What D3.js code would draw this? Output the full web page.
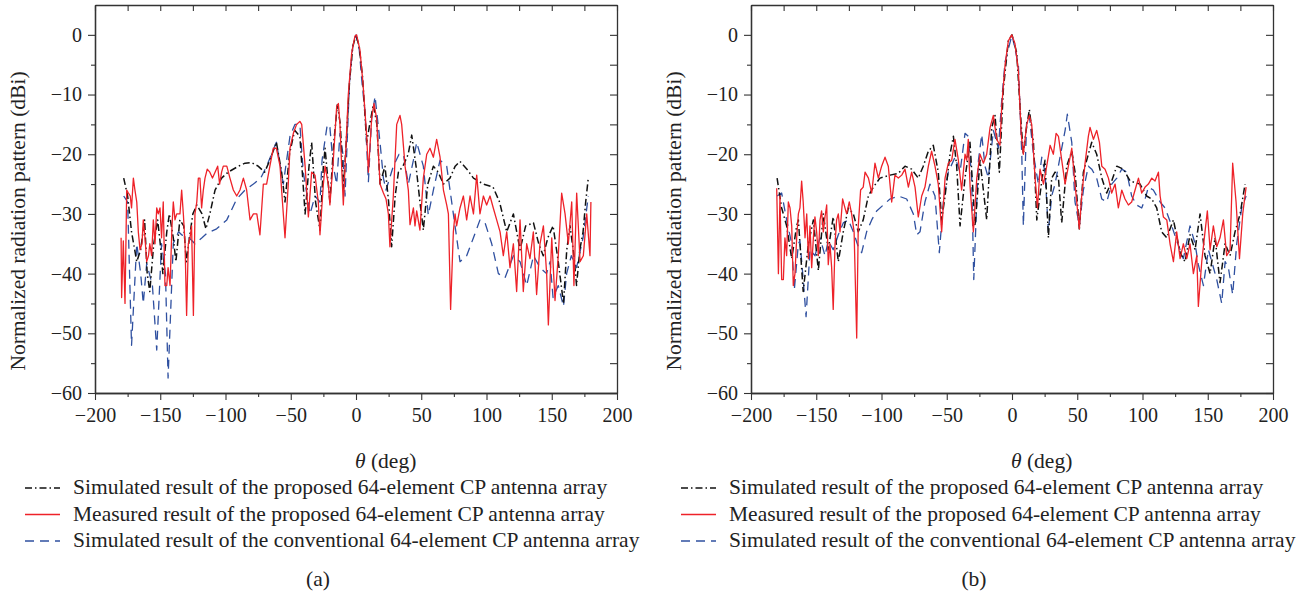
<!DOCTYPE html>
<html>
<head>
<meta charset="utf-8">
<script src="https://cdn.jsdelivr.net/npm/d3@7"></script>
<style>
  body { margin: 0; background: #fff; }
  svg text { font-family: "Liberation Serif", "DejaVu Serif", serif !important; fill: #222; }
</style>
</head>
<body>
<svg width="1305" height="598"></svg>
<script>
// series are [theta (deg), normalized pattern (dBi)]
const simA = [[-178,-24],[-175,-27],[-172,-33],[-168,-38],[-165,-36],[-162,-31],[-160,-40],[-158,-43],[-155,-35],[-152,-31],[-150,-35],[-148,-40],[-145,-33],[-143,-30],[-140,-34],[-138,-38],[-135,-31],[-132,-32],[-130,-38],[-127,-33],[-125,-30],[-122,-28.5],[-118,-30],[-115,-32.5],[-112,-30],[-108,-26],[-103,-24],[-98,-23],[-90,-22],[-85,-21.5],[-80,-21.4],[-75,-22],[-70,-23],[-66,-21],[-61,-18],[-57,-23],[-54.4,-28],[-51,-20],[-47,-16],[-43,-17],[-39,-30],[-36,-22],[-34,-18],[-31,-28],[-27.6,-32.7],[-25,-22],[-23.7,-19],[-20,-28],[-17,-18],[-14.3,-11.7],[-12,-15],[-9.7,-26],[-8,-20],[-5,-8],[-2.5,-2],[0,0],[2.5,-2],[5,-7],[8.2,-18],[10.5,-15],[13.3,-11.7],[16,-15],[18.4,-25],[22.2,-22],[25,-28],[27.3,-35.5],[30,-27],[32.5,-23],[36,-22],[40,-20],[42.7,-16.8],[46,-22],[49,-28],[51.6,-32.7],[55,-25],[59.3,-22],[63,-23],[67,-25],[72,-24],[76,-22],[79.7,-21.2],[85,-22.5],[90,-24],[97.6,-25],[105,-25.5],[110,-28],[115.5,-33],[120.6,-30],[125.7,-36],[130,-32],[136,-31.5],[140,-35],[143.5,-37],[147,-34],[151,-32],[155,-38],[159,-45],[161.5,-36],[164,-32],[167,-37],[169,-42],[171.5,-36],[174,-33],[176,-28],[178,-24]];

const convA = [[-178,-27],[-175,-28],[-172,-52],[-168,-35],[-165,-40],[-163,-45],[-160.4,-38.3],[-156,-42],[-152.7,-52.8],[-149,-35],[-146,-40],[-144,-57.5],[-140,-34.9],[-136,-33],[-133.6,-33.5],[-128,-34],[-123.4,-35],[-118,-34],[-114,-33.2],[-106.8,-32.5],[-99,-31],[-91.4,-27.5],[-85,-26],[-78.6,-25],[-73,-24],[-68.5,-22],[-61,-18],[-55.7,-25],[-50.6,-17],[-46.8,-15],[-43,-15],[-40.4,-23],[-35.2,-30],[-31.4,-27],[-27.6,-28],[-26,-21],[-22,-15],[-20,-15.5],[-17.4,-22],[-14.8,-25],[-12.3,-16.5],[-10,-20],[-8.4,-27],[-5,-8],[-2.5,-2],[0,0],[2.5,-2.5],[4.4,-7.5],[6.9,-13],[9.5,-24.6],[12,-14],[14.6,-10.3],[18.4,-18],[21,-24],[23,-26],[28.6,-22],[33,-20],[36.3,-20],[40.1,-25],[44,-21],[46.5,-18],[51.6,-22],[55.4,-30.2],[59.3,-26],[64.4,-21],[69.5,-22],[74.6,-30],[79.7,-38],[84.8,-37],[90,-34],[95,-31],[98.9,-31.5],[104,-35],[109.1,-40],[114.2,-40.7],[120.6,-37],[125.7,-38],[130.8,-42],[136,-37],[141,-39],[146,-40],[148.7,-38],[151,-44],[155,-42],[159,-45.5],[161.4,-40],[165,-37],[169,-39],[174,-34],[178,-27]];

const measA = [[-180,-34],[-179.6,-44],[-178.3,-34.5],[-177,-45],[-175.7,-26],[-174.4,-26.5],[-173,-27],[-172,-29],[-170.6,-24],[-169.4,-26],[-168,-28],[-166.8,-33],[-165.5,-36],[-164,-35],[-163,-31],[-161.7,-34],[-160.4,-38],[-159,-37],[-158,-35],[-156.6,-37],[-155.3,-31],[-154,-35],[-152.7,-29],[-151.5,-30],[-150.2,-29],[-149,-34],[-147.7,-28],[-146.4,-42],[-145,-42],[-144,-39],[-142.5,-42],[-141,-32],[-140,-28],[-138.7,-31],[-137.4,-30],[-134.9,-30],[-133.6,-26],[-132.3,-30],[-131,-35],[-129.8,-47],[-128.5,-35],[-127.2,-34],[-126,-32],[-124.6,-47],[-123.4,-30],[-122,-28],[-120.8,-24],[-119.6,-24],[-118.3,-29],[-117,-26],[-115.7,-24],[-114,-22.5],[-112,-23],[-110,-24],[-108,-23],[-106,-22],[-104.5,-25],[-103,-23],[-101.7,-22],[-99,-22],[-96.6,-24],[-94,-26],[-91.4,-27],[-88.9,-26],[-86.3,-24],[-83.8,-26],[-81.2,-31],[-78.6,-30],[-76,-30],[-73.6,-33.5],[-71,-25],[-68.5,-25],[-66,-22],[-63.4,-19],[-61,-19],[-58.2,-22],[-57,-26],[-54.4,-34],[-51.9,-25],[-50.6,-19],[-48,-16.5],[-45.5,-15],[-43,-14.5],[-41.6,-15],[-39,-22],[-36.5,-30.5],[-34,-23],[-31.4,-23.5],[-28.9,-28],[-27.6,-33.5],[-25,-25],[-23.7,-22],[-21.2,-25],[-20,-28.5],[-17.4,-21],[-14.8,-12],[-13.5,-11.5],[-12.3,-15],[-11,-22],[-9.7,-28.5],[-8.4,-22],[-5.9,-10],[-3.3,-3],[-0.8,-0.2],[0.5,0],[3,-2.5],[5.3,-8],[8.2,-17],[9.5,-23],[12,-14],[13.8,-11.5],[15.8,-14],[18.4,-25],[21,-26.5],[23,-27.5],[24.8,-30],[26,-35.5],[28.6,-27],[31.2,-15],[33.7,-13.5],[35,-15],[37.6,-22],[40.1,-26],[41.4,-31.8],[44,-29],[45.2,-32],[46.5,-29.5],[49,-32.7],[51.6,-24],[54.2,-20],[56.7,-19],[59.3,-20.5],[61.8,-17.5],[64.4,-20.5],[67,-26],[69.5,-28.5],[70.8,-30],[72.5,-46],[74.6,-33],[75.9,-30],[77.1,-32],[79.7,-29],[82.3,-27],[84.8,-31],[87.4,-27],[90,-30],[92.5,-23.5],[95,-30],[97.6,-27],[100.1,-28.5],[102.7,-27],[105.2,-29],[107.8,-31],[110.4,-33],[112.9,-37],[115.5,-33],[118,-39],[120.6,-35],[123.1,-43],[125.7,-31],[128.2,-43],[130.8,-35],[133.3,-37.5],[135.9,-33],[138.4,-43.5],[141,-35],[143.6,-32],[146.1,-40],[147.4,-48.6],[150,-34],[152.5,-44.5],[155,-37],[157.6,-26.5],[160.2,-30],[162.7,-35],[165.3,-28],[167,-42],[169.1,-26.5],[171.7,-38],[174.2,-37],[176.8,-30],[179.3,-37],[180,-28]];

const simB = [[-180,-24],[-176.5,-29],[-172.7,-32],[-168.8,-37.5],[-165,-32],[-163.7,-31],[-160,-43],[-156,-35],[-152.2,-31],[-148.4,-39.5],[-144.6,-30],[-140.8,-36],[-137,-30.5],[-133.1,-38],[-129.3,-33],[-125.4,-29],[-121.6,-30],[-117.8,-33],[-114,-31],[-110.1,-27],[-106.2,-25.5],[-101.2,-24],[-93.5,-23.5],[-87.1,-23.2],[-82,-22],[-76.9,-22.5],[-71.8,-24],[-68,-22],[-64.1,-19.5],[-60.3,-18.5],[-56.5,-23],[-53.9,-31],[-51.3,-27],[-47.5,-20],[-44.9,-17],[-42.4,-22],[-39.8,-32],[-36,-24],[-32.2,-18],[-28.3,-32],[-24.5,-21],[-19.4,-31],[-15.5,-15.5],[-13,-13.5],[-9.7,-23],[-6.6,-9],[-2.8,-1],[0,0],[3.6,-3],[6.7,-14],[8.7,-20],[10.8,-16],[13.3,-12.5],[16.4,-18],[19,-31],[22.8,-24.5],[25.3,-21],[27.9,-34],[30.4,-24],[33,-23],[35.6,-24],[38.1,-31.5],[41.9,-22],[45.8,-19.5],[48.3,-23],[51.6,-32.5],[54.7,-23],[58.5,-20],[61.1,-18],[64.9,-20],[68.8,-24],[72.6,-26.5],[76.4,-24.5],[80.3,-22],[85.4,-22.5],[90.5,-24.5],[98.1,-25],[103.2,-27],[107.1,-27.5],[110.9,-29],[114.7,-33],[118.6,-34],[123.7,-31],[128.8,-36.5],[132.6,-38],[136.4,-33.5],[140.3,-36],[144.1,-30],[147.9,-37],[151.8,-40],[155.6,-34],[159.4,-41.5],[163.3,-35],[167.1,-37],[170.9,-33],[174.8,-30],[178.6,-25]];

const convB = [[-180,-27],[-176.5,-26.5],[-172.7,-31],[-168.8,-35],[-166.8,-42.7],[-163.7,-35],[-162.5,-34.5],[-160,-41],[-157.8,-47.2],[-154.8,-36],[-151,-37],[-147.1,-34],[-143.3,-37],[-140.8,-34.5],[-137,-36],[-133.1,-33.5],[-129.3,-31.5],[-125.4,-31],[-121.6,-33],[-117.8,-35.5],[-115.2,-36.5],[-111.4,-33],[-107.5,-31],[-103.7,-29.5],[-98.6,-28.5],[-93.5,-27.5],[-87.1,-27],[-80.7,-27.5],[-75.6,-30],[-73,-33.5],[-70.5,-33],[-66.7,-28],[-62.9,-25],[-59,-27],[-55.7,-36.5],[-52.6,-28],[-48.8,-23],[-43.7,-20.5],[-39.8,-23],[-36,-16.5],[-33.5,-17],[-30.9,-24],[-29.3,-41],[-27,-28],[-25.7,-21],[-23.2,-16.7],[-20.7,-22],[-18.1,-24],[-14.3,-16],[-10.4,-19],[-7.9,-11],[-5.3,-4.5],[0,0],[4.9,-5],[7.5,-20],[8.7,-32],[11.3,-14],[13.3,-13.5],[16.4,-20],[20.2,-25],[22.8,-20.5],[25.3,-23],[27.9,-33],[30.4,-27],[33,-25],[36.8,-20.5],[40.7,-16],[42.4,-13.3],[45.8,-18],[48.3,-28],[51.6,-32],[54.7,-26],[58.5,-22],[61.1,-22.5],[64.9,-24],[68.8,-27.5],[72.6,-28],[76.4,-25],[80.3,-24],[84.1,-22.5],[87.9,-23],[91.7,-27],[95.5,-28.5],[99.4,-29],[102,-27.5],[104.5,-25.5],[108.3,-26],[113.5,-28],[117.3,-29],[122.4,-32],[126.2,-34.5],[131.3,-37.5],[136.4,-32],[140.3,-35],[142.8,-38.5],[146.7,-42],[150.5,-36],[153.1,-38],[156.9,-41],[160.7,-45],[163.3,-38],[165.8,-39],[169.1,-43.5],[172.2,-35],[176,-29],[179.4,-27]];

const measB = [[-180.3,-25.7],[-179,-40],[-177.8,-27],[-176.5,-41],[-175.2,-41],[-174,-34],[-172.7,-37],[-171.4,-28],[-170.1,-29],[-168.8,-32],[-167.6,-42],[-166.3,-40],[-165,-34],[-163.7,-30],[-162.5,-29],[-161.2,-24.5],[-160,-28],[-158.6,-34],[-157.3,-30],[-156,-37.5],[-154.8,-32],[-153.5,-39],[-152.2,-34],[-151,-30.5],[-149.7,-33],[-148.4,-37],[-147.1,-31],[-145.9,-29.5],[-144.6,-33],[-143.3,-30.5],[-142,-28.5],[-140.8,-38.5],[-139.5,-35],[-138.2,-39],[-137,-46],[-135.6,-35],[-134.4,-31],[-133.1,-30],[-131.8,-33],[-129.8,-27.5],[-128,-29],[-126.7,-30],[-124.7,-28],[-122.9,-30],[-121,-33],[-119,-50.8],[-117.8,-32],[-116,-26],[-114,-25.5],[-112.6,-23],[-110,-24],[-107.5,-26.5],[-105,-21.5],[-102.4,-24],[-99.9,-22],[-97.3,-20.5],[-94.8,-22],[-92.2,-28],[-89.7,-23.5],[-87.1,-24],[-84.5,-23.5],[-82,-22.5],[-79.4,-25.5],[-76.9,-23],[-74.3,-25.5],[-71.8,-30.5],[-69.2,-27],[-66.7,-25.5],[-64.1,-22],[-61.6,-19.5],[-59,-22],[-56.5,-25],[-53.9,-33],[-51.3,-24],[-48.8,-21.5],[-46.2,-21],[-43.7,-17.5],[-41.1,-21],[-38.6,-26],[-36,-20],[-34.7,-21],[-33.5,-17.5],[-32.1,-25.5],[-29.6,-33],[-27,-24],[-24.5,-20],[-21.9,-21.5],[-19.4,-20],[-16.8,-15.5],[-14.3,-13.5],[-11.7,-17.5],[-9.2,-18.5],[-7.9,-12],[-5.3,-5],[-2.8,-1],[-0.2,0],[2.3,-1.5],[4.9,-6],[7,-16.5],[8.7,-20],[11.3,-15],[13.3,-13.5],[15.1,-15],[17.7,-24],[19.5,-29],[21.5,-22.5],[24.1,-25],[26.6,-22],[29.2,-18.5],[31.7,-20],[33.8,-16.5],[35.6,-17],[38.1,-21],[40.7,-25],[43.2,-22],[45.8,-19],[48.3,-25],[51.6,-32.5],[53.4,-27],[56,-21.5],[58.5,-17],[59.8,-15.5],[62.4,-17.5],[64.9,-16],[67,-18],[68.8,-22],[71.3,-22.5],[73.9,-24],[76.4,-26.5],[79,-25],[81.5,-29],[84.1,-26],[86.6,-27.5],[89.2,-28.5],[91.7,-28],[94.3,-26],[96.9,-24],[99.4,-26.5],[102,-25.5],[104.5,-25],[107.1,-24],[109.6,-24.5],[112.2,-23],[113.5,-27],[116,-30.5],[118.6,-31],[121.1,-35],[123.7,-38],[126.2,-33],[128.8,-37.5],[131.3,-35],[133.9,-37.5],[136.4,-35],[139,-40],[141.6,-37],[142.8,-45.5],[145.4,-38],[147.9,-33],[149.7,-29.5],[151.8,-36],[154.3,-32],[156.9,-35.5],[159.4,-34],[162,-31],[164.5,-37],[167.1,-36],[169.1,-21.5],[171.7,-28],[174.3,-37.5],[176.8,-30],[179.4,-25.5]];

const xTicks = [-200, -150, -100, -50, 0, 50, 100, 150, 200];
const yTicks = [0, -10, -20, -30, -40, -50, -60];
const legendLabels = [
  "Simulated result of the proposed 64-element CP antenna array",
  "Measured result of the proposed 64-element CP antenna array",
  "Simulated result of the conventional 64-element CP antenna array"
];
const captions = ["(a)", "(b)"];

const serif = "'Liberation Serif', 'DejaVu Serif', serif";

var svg = d3.select("svg");

const styles = [
  { color: "#111", width: 1.5, dash: "7,3,1.5,3" },
  { color: "#ee2229", width: 1.3, dash: null },
  { color: "#2f50a0", width: 1.3, dash: "9,6" }
];

const fmt = d => d < 0 ? "\u2212" + Math.abs(d) : String(d);

function drawPanel(left, series, caption) {
  var width = 522, top = 5, height = 388;

  var x = d3.scaleLinear().domain([-200, 200]).range([left, left + width]);
  var y = d3.scaleLinear().domain([-60, 5]).range([top + height, top]);

  var minorX = d3.range(-200, 201, 25).filter(v => v % 50 !== 0);
  var minorY = d3.range(-55, 5, 10);
  var allY = d3.range(-60, 5, 5);
  var allX = d3.range(-200, 201, 25);

  var g = svg.append("g");

  // lines: conventional, simulated, measured (red on top)
  var line = d3.line().x(d => x(d[0])).y(d => y(d[1]));
  [2, 0, 1].forEach(i => {
    g.append("path")
     .datum(series[i])
     .attr("fill", "none")
     .attr("stroke", styles[i].color)
     .attr("stroke-width", styles[i].width)
     .attr("stroke-dasharray", styles[i].dash)
     .attr("stroke-linejoin", "round")
     .attr("d", line);
  });

  // axes
  var ax = g.append("g").attr("class", "axes");
  ax.append("g")
    .attr("transform", `translate(0,${top + height})`)
    .call(d3.axisBottom(x).tickValues(xTicks).tickSize(7).tickSizeOuter(0).tickPadding(8).tickFormat(fmt));
  ax.append("g")
    .attr("transform", `translate(0,${top + height})`)
    .call(d3.axisBottom(x).tickValues(minorX).tickSize(4).tickSizeOuter(0).tickFormat(""));
  ax.append("g")
    .attr("transform", `translate(0,${top})`)
    .call(d3.axisTop(x).tickValues(allX).tickSize(-6).tickSizeOuter(0).tickFormat(""));
  ax.append("g")
    .attr("transform", `translate(${left},0)`)
    .call(d3.axisLeft(y).tickValues(yTicks).tickSize(7).tickSizeOuter(0).tickPadding(6).tickFormat(fmt));
  ax.append("g")
    .attr("transform", `translate(${left},0)`)
    .call(d3.axisLeft(y).tickValues(minorY).tickSize(4).tickSizeOuter(0).tickFormat(""));
  ax.append("g")
    .attr("transform", `translate(${left + width},0)`)
    .call(d3.axisRight(y).tickValues(allY).tickSize(-7).tickSizeOuter(0).tickFormat(""));

  ax.selectAll("g").attr("font-family", null);
  ax.selectAll(".domain").attr("stroke", "#333").attr("stroke-width", 1.3);
  ax.selectAll(".tick line").attr("stroke", "#333").attr("stroke-width", 1.1);
  ax.selectAll("text")
    .style("font-family", serif)
    .attr("font-size", 20)
    .attr("fill", "#222");

  // y label
  g.append("text")
   .attr("transform", `translate(${left - 77},${221}) rotate(-90)`)
   .attr("text-anchor", "middle")
   .attr("dominant-baseline", "central")
   .style("font-family", serif)
   .attr("font-size", 21.5)
   .text("Normalized radiation pattern (dBi)");

  // x label
  var xl = g.append("text")
            .attr("x", left + width / 2 - 1)
            .attr("y", 468)
            .style("font-family", serif)
            .attr("font-size", 21.5);
  xl.append("tspan").attr("font-style", "italic").text("\u03b8");
  xl.append("tspan").text(" (deg)");

  // legend
  legendLabels.forEach((lab, i) => {
    var yy = 494 + i * 26.5;
    var s = styles[i];
    g.append("line")
     .attr("x1", left - 70).attr("x2", left - 35)
     .attr("y1", yy - 6).attr("y2", yy - 6)
     .attr("stroke", s.color)
     .attr("stroke-width", s.width)
     .attr("stroke-dasharray", s.dash);
    g.append("text")
     .attr("x", left - 22)
     .attr("y", yy)
     .style("font-family", serif)
     .attr("font-size", 21.5)
     .text(lab);
  });

  g.append("text")
   .attr("x", left + width / 2 - 38)
   .attr("y", 586)
   .attr("text-anchor", "middle")
   .style("font-family", serif)
   .attr("font-size", 21.5)
   .text(caption);
}

drawPanel(95, [simA, measA, convA], captions[0]);
drawPanel(751, [simB, measB, convB], captions[1]);
</script>
</body>
</html>
